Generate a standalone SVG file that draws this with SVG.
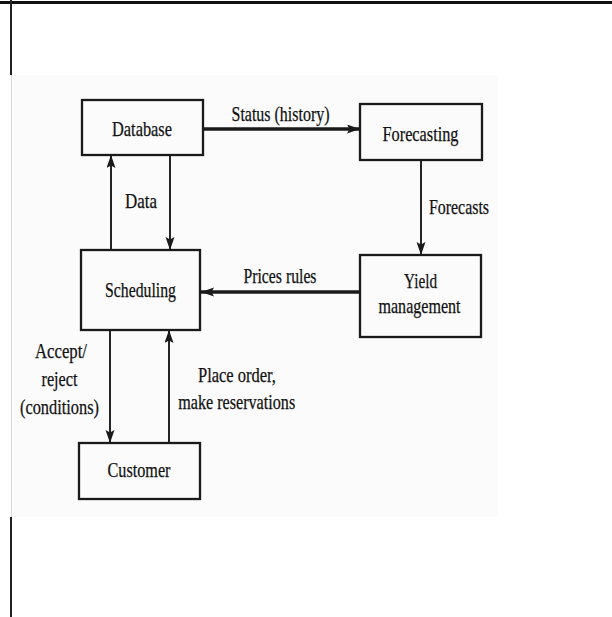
<svg xmlns="http://www.w3.org/2000/svg" width="612" height="617" viewBox="0 0 612 617">
<style>
.t{font-family:"Liberation Serif","Times New Roman",serif;font-size:21px;fill:#111;text-anchor:middle;stroke:#111;stroke-width:0.25}
.box{fill:none;stroke:#1a1a1a;stroke-width:2.3}
.c{fill:none;stroke:#1a1a1a;stroke-width:1.9}
.thick{stroke-width:3.4}
</style>
<defs>
<marker id="ah" markerUnits="userSpaceOnUse" markerWidth="14" markerHeight="10" refX="13" refY="4.5" orient="auto">
<path d="M0,0 L13,4.5 L0,9 L2.5,4.5 z" fill="#1a1a1a"/>
</marker>
</defs>
<rect x="0" y="0" width="612" height="617" fill="#ffffff"/>
<rect x="11" y="75" width="487" height="442" fill="#fbfbfb"/>
<line x1="11.5" y1="75" x2="11.5" y2="517" stroke="#d8d8d8" stroke-width="1"/>
<rect x="0" y="1" width="612" height="3" fill="#111"/>
<line x1="11" y1="0" x2="11" y2="75" stroke="#222" stroke-width="2"/>
<line x1="11" y1="517" x2="11" y2="617" stroke="#222" stroke-width="2"/>

<g id="connectors">
<path class="c thick" d="M203,129 L360,129" marker-end="url(#ah)"/>
<path class="c" d="M170,155 L170,250" marker-end="url(#ah)"/>
<path class="c" d="M111,250 L111,155" marker-end="url(#ah)"/>
<path class="c" d="M421,160 L421,255" marker-end="url(#ah)"/>
<path class="c thick" d="M360,292 L201,292" marker-end="url(#ah)"/>
<path class="c" d="M110,330 L110,443" marker-end="url(#ah)"/>
<path class="c" d="M169,443 L169,330" marker-end="url(#ah)"/>
<text class="t" x="280.5" y="121" textLength="98" lengthAdjust="spacingAndGlyphs">Status (history)</text>
<text class="t" x="141" y="208" textLength="32" lengthAdjust="spacingAndGlyphs">Data</text>
<text class="t" x="459" y="214" textLength="60" lengthAdjust="spacingAndGlyphs">Forecasts</text>
<text class="t" x="280" y="283" textLength="73" lengthAdjust="spacingAndGlyphs">Prices rules</text>
<text class="t" x="61" y="358" textLength="52" lengthAdjust="spacingAndGlyphs">Accept/</text>
<text class="t" x="59.5" y="386" textLength="36" lengthAdjust="spacingAndGlyphs">reject</text>
<text class="t" x="59.5" y="414" textLength="79" lengthAdjust="spacingAndGlyphs">(conditions)</text>
<text class="t" x="237" y="382" textLength="78" lengthAdjust="spacingAndGlyphs">Place order,</text>
<text class="t" x="236.7" y="409" textLength="117" lengthAdjust="spacingAndGlyphs">make reservations</text>
</g>

<g id="database">
<rect class="box" x="82" y="100" width="121" height="55"/>
<text class="t" x="142" y="136" textLength="60" lengthAdjust="spacingAndGlyphs">Database</text>
</g>
<g id="forecasting">
<rect class="box" x="360" y="104" width="122" height="56"/>
<text class="t" x="420.5" y="141" textLength="76" lengthAdjust="spacingAndGlyphs">Forecasting</text>
</g>
<g id="yield">
<rect class="box" x="360" y="255" width="121" height="82"/>
<text class="t" x="420.5" y="288" textLength="33" lengthAdjust="spacingAndGlyphs">Yield</text>
<text class="t" x="419.5" y="313" textLength="82" lengthAdjust="spacingAndGlyphs">management</text>
</g>
<g id="scheduling">
<rect class="box" x="81" y="250" width="119" height="80"/>
<text class="t" x="140.5" y="297" textLength="71" lengthAdjust="spacingAndGlyphs">Scheduling</text>
</g>
<g id="customer">
<rect class="box" x="79" y="443" width="121" height="56"/>
<text class="t" x="139" y="477" textLength="63" lengthAdjust="spacingAndGlyphs">Customer</text>
</g>
</svg>
